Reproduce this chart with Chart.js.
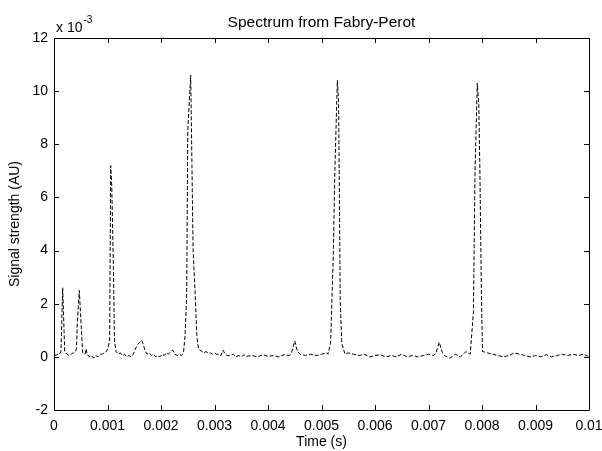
<!DOCTYPE html>
<html>
<head>
<meta charset="utf-8">
<title>Spectrum from Fabry-Perot</title>
<script src="https://cdn.jsdelivr.net/npm/chart.js@4.4.1/dist/chart.umd.min.js"></script>
<style>
  html, body { margin: 0; padding: 0; background: #fff; }
  #wrap { width: 602px; height: 451px; }
</style>
</head>
<body>
<div id="wrap"><canvas id="c" width="602" height="451"></canvas></div>
<script>
// time in seconds, signal in units of 1e-3 (AU)
var times = [
  0, 0.00005, 0.0001, 0.00013, 0.000145, 0.000163, 0.00018, 0.0002, 0.00024, 0.00028,
  0.00032, 0.00036, 0.0004, 0.00042, 0.000436, 0.000473, 0.00051, 0.000536, 0.00058, 0.0006,
  0.00062, 0.00066, 0.0007, 0.00074, 0.00078, 0.00082, 0.00086, 0.0009, 0.00094, 0.00098,
  0.00101, 0.00104, 0.00106, 0.00108, 0.00111, 0.00113, 0.00116, 0.0012, 0.00124, 0.00128,
  0.00132, 0.00136, 0.0014, 0.00144, 0.00148, 0.00152, 0.00156, 0.0016, 0.00164, 0.00167,
  0.0017, 0.00174, 0.00178, 0.00182, 0.00186, 0.0019, 0.00194, 0.00198, 0.00202, 0.00206,
  0.0021, 0.00214, 0.00218, 0.00222, 0.00226, 0.0023, 0.00234, 0.00238, 0.00242, 0.00245,
  0.00248, 0.0025, 0.002555, 0.00258, 0.0026, 0.00264, 0.00267, 0.0027, 0.0028, 0.00284,
  0.00288, 0.00292, 0.00296, 0.003, 0.00304, 0.00308, 0.00312, 0.00316, 0.0032, 0.00324,
  0.0033, 0.00335, 0.0034, 0.00345, 0.0035, 0.00355, 0.0036, 0.0037, 0.0038, 0.0039,
  0.004, 0.0041, 0.0042, 0.0043, 0.0044, 0.00444, 0.0045, 0.00455, 0.0046, 0.0047,
  0.0048, 0.0049, 0.005, 0.0051, 0.00512, 0.00517, 0.00522, 0.00525, 0.005296, 0.00532,
  0.00535, 0.00538, 0.00544, 0.0055, 0.0056, 0.0057, 0.0058, 0.0059, 0.006, 0.0061,
  0.0062, 0.0063, 0.0064, 0.0065, 0.0066, 0.0067, 0.0068, 0.0069, 0.007, 0.0071,
  0.00714, 0.0072, 0.00726, 0.0073, 0.0074, 0.0075, 0.0076, 0.0077, 0.00778, 0.00784,
  0.00787, 0.007912, 0.00794, 0.00796, 0.00799, 0.00801, 0.0081, 0.0082, 0.0083, 0.0084,
  0.0085, 0.0086, 0.0087, 0.0088, 0.0089, 0.009, 0.0091, 0.0092, 0.0093, 0.0094,
  0.0095, 0.0096, 0.0097, 0.0098, 0.0099, 0.01
];
var signal = [
  0.05, 0.08, 0.1, 0.2, 1.3, 2.6, 1.5, 0.2, 0.1, 0.05,
  0.1, 0.15, 0.2, 0.3, 1.3, 2.5, 1.1, 0.15, 0.1, 0.3,
  0.1, 0.0, 0.05, -0.05, 0.05, 0.0, 0.1, 0.1, 0.15, 0.2,
  0.35, 0.6, 7.2, 6.4, 3.4, 0.6, 0.2, 0.1, 0.15, 0.05,
  0.1, 0.0, 0.05, 0.0, 0.1, 0.3, 0.45, 0.55, 0.62, 0.45,
  0.25, 0.1, 0.15, 0.05, 0.1, 0.0, 0.05, 0.0, 0.1, 0.05,
  0.15, 0.1, 0.2, 0.25, 0.1, 0.05, 0.1, 0.05, 0.15, 0.8,
  2.3, 8.5, 10.6, 7.0, 4.0, 2.3, 0.8, 0.3, 0.15, 0.2,
  0.15, 0.15, 0.1, 0.15, 0.1, 0.1, 0.05, 0.25, 0.1, 0.05,
  0.05, 0.1, 0.0, 0.05, 0.0, 0.08, 0.02, 0.05, 0.0, 0.08,
  0.02, 0.05, 0.0, 0.08, 0.05, 0.15, 0.6, 0.2, 0.1, 0.05,
  0.1, 0.05, 0.1, 0.15, 0.1, 0.5, 3.8, 7.0, 10.4, 9.6,
  2.1, 0.5, 0.1, 0.15, 0.1, 0.05, 0.1, 0.0, 0.05, 0.08,
  0.0, 0.05, 0.0, 0.1, 0.0, 0.05, 0.0, 0.05, 0.1, 0.05,
  0.15, 0.55, 0.15, 0.05, -0.05, 0.1, 0.0, 0.2, 0.1, 1.7,
  7.0, 10.3, 9.5, 7.1, 2.2, 0.2, 0.15, 0.1, 0.05, 0.0,
  0.05, 0.15, 0.1, 0.05, 0.0, 0.05, 0.0, 0.08, 0.0, 0.05,
  0.1, 0.05, 0.1, 0.05, 0.1, 0.0
];

var xTicks = [0, 0.001, 0.002, 0.003, 0.004, 0.005, 0.006, 0.007, 0.008, 0.009, 0.01];
var xTickLabels = ['0', '0.001', '0.002', '0.003', '0.004', '0.005', '0.006', '0.007', '0.008', '0.009', '0.01'];
var yTicks = [-2, 0, 2, 4, 6, 8, 10, 12];
var yTickLabels = ['-2', '0', '2', '4', '6', '8', '10', '12'];

var FONT = 'Arial, "Liberation Sans", Helvetica, sans-serif';

var points = times.map(function (t, i) { return { x: t, y: signal[i] }; });

// MATLAB style frame: box plus inward ticks on all four sides
var framePlugin = {
  id: 'frame',
  afterDraw: function (chart) {
    var ctx = chart.ctx;
    var a = chart.chartArea;
    var xs = chart.scales.x, ys = chart.scales.y;
    var len = 5;
    ctx.save();
    ctx.strokeStyle = '#000';
    ctx.lineWidth = 1;
    ctx.beginPath();
    ctx.rect(Math.round(a.left) + 0.5, Math.round(a.top) + 0.5,
      Math.round(a.right - a.left), Math.round(a.bottom - a.top));
    xTicks.forEach(function (v) {
      var px = Math.round(xs.getPixelForValue(v)) + 0.5;
      ctx.moveTo(px, a.bottom); ctx.lineTo(px, a.bottom - len);
      ctx.moveTo(px, a.top); ctx.lineTo(px, a.top + len);
    });
    yTicks.forEach(function (v) {
      var py = Math.round(ys.getPixelForValue(v)) + 0.5;
      ctx.moveTo(a.left, py); ctx.lineTo(a.left + len, py);
      ctx.moveTo(a.right, py); ctx.lineTo(a.right - len, py);
    });
    ctx.stroke();

    // exponent label
    ctx.fillStyle = '#000';
    ctx.textBaseline = 'alphabetic';
    ctx.textAlign = 'left';
    ctx.font = '14px ' + FONT;
    ctx.fillText('x 10', a.left + 2, a.top - 6);
    var w = ctx.measureText('x 10').width;
    ctx.font = '10px ' + FONT;
    ctx.fillText('-3', a.left + 2 + w + 1, a.top - 15);
    ctx.restore();
  }
};

new Chart(document.getElementById('c'), {
  type: 'scatter',
  data: {
    datasets: [{
      data: points,
      showLine: true,
      borderColor: '#000',
      borderWidth: 1,
      borderDash: [4, 2],
      pointRadius: 0,
      fill: false,
      tension: 0
    }]
  },
  options: {
    responsive: false,
    animation: false,
    layout: { padding: { left: 0, right: 13, top: 0, bottom: 0 } },
    plugins: {
      legend: { display: false },
      tooltip: { enabled: false },
      title: {
        display: true,
        fullSize: false,
        text: 'Spectrum from Fabry-Perot',
        color: '#000',
        font: { family: FONT, size: 15.5, weight: 'normal' },
        padding: { top: 13, bottom: 6.4 }
      }
    },
    scales: {
      x: {
        type: 'linear',
        min: 0, max: 0.01,
        afterBuildTicks: function (s) { s.ticks = xTicks.map(function (v) { return { value: v }; }); },
        afterFit: function (s) { s.height = 41; s.paddingLeft = 0; s.paddingRight = 0; },
        grid: { display: false, drawTicks: false },
        border: { display: false },
        ticks: {
          color: '#000', padding: 8, maxRotation: 0, autoSkip: false,
          font: { family: FONT, size: 14 },
          callback: function (v, i) { return xTickLabels[i]; }
        },
        title: {
          display: true, text: 'Time (s)', color: '#000',
          font: { family: FONT, size: 14 },
          padding: { top: 0, bottom: 0 }
        }
      },
      y: {
        type: 'linear',
        min: -2, max: 12,
        afterBuildTicks: function (s) { s.ticks = yTicks.map(function (v) { return { value: v }; }); },
        afterFit: function (s) { s.width = 54; },
        grid: { display: false, drawTicks: false },
        border: { display: false },
        ticks: {
          color: '#000', padding: 6, autoSkip: false,
          font: { family: FONT, size: 14 },
          callback: function (v, i) { return yTickLabels[i]; }
        },
        title: {
          display: true, text: 'Signal strength (AU)', color: '#000',
          font: { family: FONT, size: 14 },
          padding: { top: 7, bottom: 0 }
        }
      }
    }
  },
  plugins: [framePlugin]
});
</script>
</body>
</html>
